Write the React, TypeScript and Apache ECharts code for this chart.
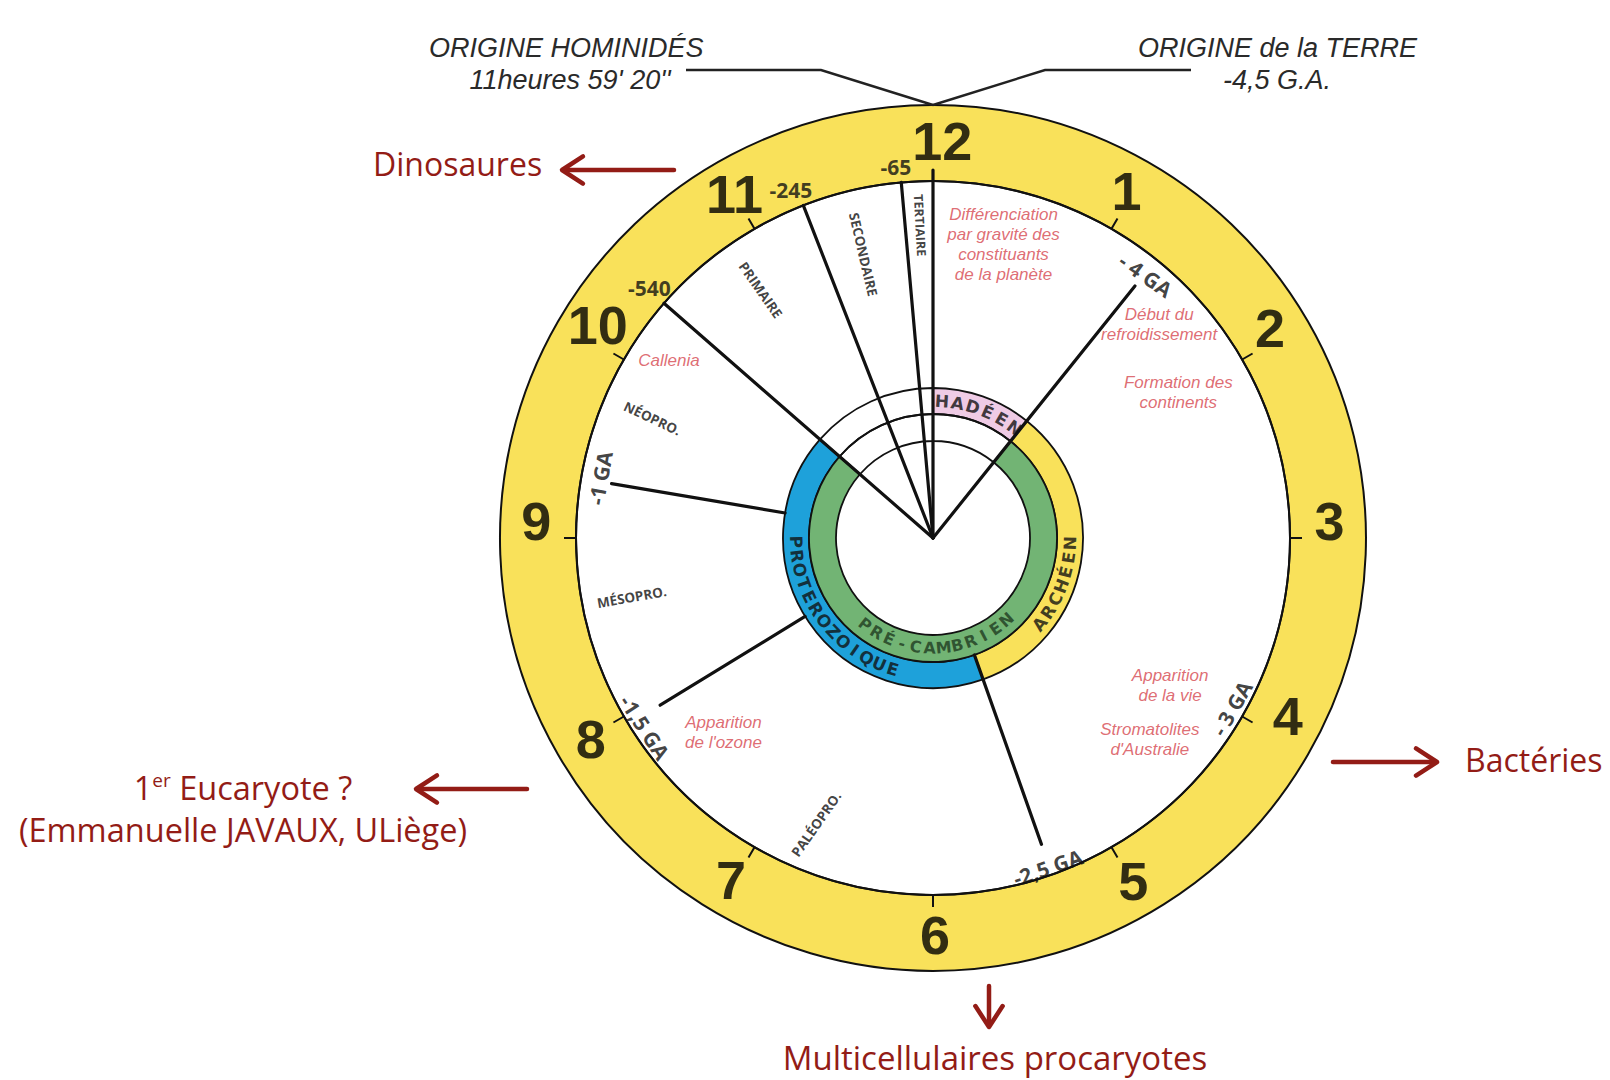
import React, { useEffect, useRef } from 'react';
import * as echarts from 'echarts';

// ---------------- data ----------------
// clock face: 12 hours = 4.5 billion years
const clockNumbers = ['12', '1', '2', '3', '4', '5', '6', '7', '8', '9', '10', '11'];
const clockNumberHours = [0.045, 0.973, 1.937, 2.918, 3.89, 4.99, 5.99, 7.02, 7.985, 9.08, 10.08, 11.0];

// eons (outer coloured band) – end position on the clock, in hours
const eonNames = ['HADÉEN', 'ARCHÉEN', 'PROTEROZOIQUE', 'PHANÉROZOÏQUE'];
const eonEndHours = [1.29, 5.35, 10.37, 12];
// super-eon (inner green band)
const superEonName = 'PRÉ-CAMBRIEN';
const superEonHours = [1.29, 10.37];

// boundaries (radial lines) and their labels
const boundaryLabels = ['', '-65', '-245', '-540', '-1 GA', '-1,5 GA', '-2,5 GA', '- 3 GA', '- 4 GA'];
const boundaryHours = [12, 11.83, 11.29, 10.37, 9.32, 7.95, 5.35, 4.0, 1.29];

// eras written along the radius
const eraNames = ['TERTIAIRE', 'SECONDAIRE', 'PRIMAIRE', 'NÉOPRO.', 'MÉSOPRO.', 'PALÉOPRO.'];

// events (red italic notes)
const eventTexts = [
  'Différenciation\npar gravité des\nconstituants\nde la planète',
  'Début du\nrefroidissement',
  'Formation des\ncontinents',
  'Apparition\nde la vie',
  "Stromatolites\nd'Australie",
  "Apparition\nde l'ozone",
  'Callenia',
];

// header notes
const topLeftNote = ['ORIGINE HOMINIDÉS', "11heures 59' 20''"];
const topRightNote = ['ORIGINE de la TERRE', '-4,5 G.A.'];
// side notes (dark red)
const sideNotes = ['Dinosaures', 'Bactéries', 'Multicellulaires procaryotes', '(Emmanuelle JAVAUX, ULiège)'];

// ---------------- layout / style ----------------
const CX = 933;
const CY = 538;
const R_OUT = 433;
const R_FACE = 357;
const EON_BAND = [124, 150];
const SUPER_BAND = [97, 124];

const INK = '#111111';
const YELLOW = '#f9e15a';
const PINK = '#efcbe5';
const BLUE = '#1ea1da';
const GREEN = '#72b474';
const EMPTY = 'rgba(0,0,0,0)';
const EVENT_RED = '#d6474f';
const ANNOT_RED = '#931c16';

const eonColors = [PINK, YELLOW, BLUE, EMPTY];
// [r0, r1] of each boundary line (null = no line)
const boundaryLineExtent: (number[] | null)[] = [
  [0, 368], [0, 357], [0, 357], [0, 357], [150, 326], [150, 320], [124, 325], null, [0, 323],
];
// [r, hour, rotation] for each boundary label
const boundaryLabelPos: (number[] | null)[] = [
  null, [373, 11.81, 0], [376, 11.26, 0], [378, 10.38, 0], [338, 9.34, 80], [345, 7.89, -57],
  [349, 5.36, 19], [344, 3.99, 60], [338, 1.3, -35],
];
const eraPos = [
  [313, 11.92, -87], [292, 11.54, -77], [302, 10.84, -55], [305, 9.77, -25], [307, 8.63, 10], [309, 6.74, 55],
];
const eventPos = [
  [302, 0.45], [311, 1.555], [285, 1.98], [279, 4.06], [296, 4.43], [286, 7.57], [318, 10.13],
];
const NUMBER_R = 397;

const norm = (d: number) => ((((d + 180) % 360) + 360) % 360) - 180;

function arcLetters(text: string, r: number, h0: number, h1: number, topOut: boolean, style: any) {
  const chars = Array.from(text);
  const n = chars.length;
  return chars.map((c, i) => {
    const h = h0 + ((h1 - h0) * i) / (n - 1);
    const theta = h * 30;
    const rot = topOut ? -theta : 180 - theta;
    return { value: [r, h], label: { formatter: c, rotate: norm(rot), ...style } };
  });
}

function textSeries(name: string, data: any[], z = 6) {
  return {
    type: 'scatter',
    name,
    coordinateSystem: 'polar',
    polarIndex: 0,
    symbolSize: 1,
    silent: true,
    z,
    itemStyle: { color: EMPTY },
    label: { show: true, position: 'inside', align: 'center', verticalAlign: 'middle' },
    labelLayout: { hideOverlap: false },
    data,
  };
}

function arrow(x1: number, y1: number, x2: number, y2: number) {
  const ang = Math.atan2(y2 - y1, x2 - x1);
  const L = 25;
  const a = (33 * Math.PI) / 180;
  const p1 = [x2 - L * Math.cos(ang - a), y2 - L * Math.sin(ang - a)];
  const p2 = [x2 - L * Math.cos(ang + a), y2 - L * Math.sin(ang + a)];
  const st = { stroke: ANNOT_RED, lineWidth: 4.5, lineCap: 'round', lineJoin: 'round', fill: 'none' };
  return [
    { type: 'line', shape: { x1, y1, x2: x2 - 2 * Math.cos(ang), y2: y2 - 2 * Math.sin(ang) }, style: st, z: 100 },
    { type: 'polyline', shape: { points: [p1, [x2, y2], p2] }, style: st, z: 100 },
  ];
}

function buildOption() {
  let prev = 0;
  const eonData = eonNames.map((n, i) => {
    const v = eonEndHours[i] - prev;
    prev = eonEndHours[i];
    return { name: n, value: v, itemStyle: { color: eonColors[i] } };
  });
  const superData = [
    { name: 'avant', value: superEonHours[0], itemStyle: { color: EMPTY } },
    { name: superEonName, value: superEonHours[1] - superEonHours[0], itemStyle: { color: GREEN } },
    { name: 'après', value: 12 - superEonHours[1], itemStyle: { color: EMPTY } },
  ];

  const ringBase = {
    type: 'pie',
    center: [CX, CY],
    startAngle: 90,
    clockwise: true,
    silent: true,
    label: { show: false },
    labelLine: { show: false },
    emphasis: { disabled: true },
  };

  const lineSeries: any[] = [];
  boundaryHours.forEach((h, i) => {
    const ext = boundaryLineExtent[i];
    if (!ext) return;
    lineSeries.push({
      type: 'line',
      name: 'limite ' + (boundaryLabels[i] || 'origine'),
      coordinateSystem: 'polar',
      polarIndex: 0,
      data: [[ext[0], h], [ext[1], h]],
      showSymbol: false,
      symbol: 'none',
      silent: true,
      z: 4,
      lineStyle: { color: INK, width: 3.2, cap: 'round' },
    });
  });

  const numberData = clockNumbers.map((t, i) => ({
    value: [NUMBER_R, clockNumberHours[i]],
    label: {
      formatter: t,
      fontSize: 54,
      fontWeight: 'bold',
      fontFamily: "'Liberation Sans Narrow', 'Liberation Sans', sans-serif",
      color: '#000000',
    },
  }));

  const boundaryData: any[] = [];
  boundaryLabels.forEach((t, i) => {
    const p = boundaryLabelPos[i];
    if (!p || !t) return;
    boundaryData.push({
      value: [p[0], p[1]],
      label: { formatter: t, rotate: p[2], fontSize: 21, fontWeight: 'bold', fontFamily: "'Open Sans', sans-serif", color: INK },
    });
  });

  const eraData = eraNames.map((t, i) => ({
    value: [eraPos[i][0], eraPos[i][1]],
    label: {
      formatter: t,
      rotate: eraPos[i][2],
      fontSize: i === 0 ? 12.5 : 13.5,
      fontWeight: 'bold',
      fontFamily: "'Open Sans', sans-serif",
      color: INK,
    },
  }));

  const eventData = eventTexts.map((t, i) => ({
    value: [eventPos[i][0], eventPos[i][1]],
    label: {
      formatter: t,
      fontSize: 17,
      lineHeight: 20,
      fontStyle: 'italic',
      fontFamily: "'Liberation Sans', Arial, sans-serif",
      color: EVENT_RED,
    },
  }));

  const eonStyle = { fontSize: 17, fontWeight: 'bold', fontFamily: "'DejaVu Sans', sans-serif", color: INK };
  const letters = [
    ...arcLetters(eonNames[0], 137, 0.127, 1.217, true, eonStyle),
    ...arcLetters(eonNames[1], 137, 4.293, 3.073, false, eonStyle),
    ...arcLetters(eonNames[2], 137, 8.947, 6.573, false, eonStyle),
    ...arcLetters(superEonName, 110, 7.273, 4.603, false, { ...eonStyle, fontSize: 16, color: '#1e3a1f' }),
  ];

  const graphic: any[] = [];
  const noteFont = "'Liberation Sans Narrow', 'Liberation Sans', sans-serif";
  const noteStyle = { fill: '#2a2a2a', fontSize: 27, fontStyle: 'italic', fontFamily: noteFont, verticalAlign: 'middle' };
  graphic.push({ type: 'text', x: 429, y: 48, z: 100, style: { ...noteStyle, text: topLeftNote[0], align: 'left' } });
  graphic.push({ type: 'text', x: 570, y: 80, z: 100, style: { ...noteStyle, text: topLeftNote[1], align: 'center' } });
  graphic.push({ type: 'text', x: 1417, y: 48, z: 100, style: { ...noteStyle, text: topRightNote[0], align: 'right' } });
  graphic.push({ type: 'text', x: 1277, y: 80, z: 100, style: { ...noteStyle, text: topRightNote[1], align: 'center' } });
  const leader = { stroke: '#222', lineWidth: 2.5, fill: 'none' };
  graphic.push({ type: 'polyline', z: 100, shape: { points: [[686, 70], [821, 70], [CX, CY - R_OUT]] }, style: leader });
  graphic.push({ type: 'polyline', z: 100, shape: { points: [[1191, 70], [1045, 70], [CX, CY - R_OUT]] }, style: leader });

  const sideFont = "'Open Sans', sans-serif";
  const sideStyle = { fill: ANNOT_RED, fontSize: 32, fontFamily: sideFont, verticalAlign: 'middle' };
  graphic.push({ type: 'text', x: 373, y: 163, z: 100, style: { ...sideStyle, text: sideNotes[0], align: 'left' } });
  graphic.push(...arrow(674, 170, 562, 170));
  graphic.push({ type: 'text', x: 1465, y: 759, z: 100, style: { ...sideStyle, text: sideNotes[1], align: 'left' } });
  graphic.push(...arrow(1333, 762, 1437, 762));
  graphic.push({ type: 'text', x: 995, y: 1057, z: 100, style: { ...sideStyle, fontSize: 33, text: sideNotes[2], align: 'center' } });
  graphic.push(...arrow(989, 986, 989, 1027));
  graphic.push({
    type: 'text', x: 243, y: 787, z: 100,
    style: {
      text: '{b|1}{s|er}{b| Eucaryote ?}',
      align: 'center',
      verticalAlign: 'middle',
      rich: {
        b: { fill: ANNOT_RED, fontSize: 32.5, fontFamily: sideFont },
        s: { fill: ANNOT_RED, fontSize: 19, fontFamily: sideFont, verticalAlign: 'top' },
      },
    },
  });
  graphic.push({ type: 'text', x: 243, y: 829, z: 100, style: { ...sideStyle, fontSize: 32.5, text: sideNotes[3], align: 'center' } });
  graphic.push(...arrow(527, 789, 416, 789));

  return {
    animation: false,
    backgroundColor: '#ffffff',
    polar: [
      { center: [CX, CY], radius: R_OUT },
      { center: [CX, CY], radius: R_FACE },
    ],
    angleAxis: [
      { polarIndex: 0, type: 'value', min: 0, max: 12, startAngle: 90, clockwise: true, show: false },
      {
        polarIndex: 1, type: 'value', min: 0, max: 12, interval: 1, startAngle: 90, clockwise: true, z: 10,
        axisLine: { show: true, lineStyle: { color: INK, width: 2 } },
        axisTick: { show: true, inside: false, length: 12, lineStyle: { color: INK, width: 2 } },
        axisLabel: { show: false },
        splitLine: { show: false },
      },
    ],
    radiusAxis: [
      { polarIndex: 0, type: 'value', min: 0, max: R_OUT, show: false },
      { polarIndex: 1, type: 'value', min: 0, max: R_FACE, show: false },
    ],
    series: [
      {
        ...ringBase, name: 'cadran', radius: [R_FACE, R_OUT], z: 1,
        data: [{ name: 'cadran', value: 12, itemStyle: { color: YELLOW } }],
        itemStyle: { borderColor: INK, borderWidth: 2 },
      },
      { ...ringBase, name: 'éons', radius: EON_BAND, z: 2, data: eonData, itemStyle: { borderColor: INK, borderWidth: 1.8 } },
      { ...ringBase, name: 'super-éon', radius: SUPER_BAND, z: 2, data: superData, itemStyle: { borderColor: INK, borderWidth: 1.8 } },
      ...lineSeries,
      textSeries('heures', numberData),
      textSeries('limites', boundaryData),
      textSeries('ères', eraData),
      textSeries('événements', eventData),
      textSeries('lettres', letters),
    ],
    graphic,
  };
}

export default function App() {
  const ref = useRef<HTMLDivElement>(null);
  useEffect(() => {
    document.body.style.margin = '0';
    if (!ref.current) return;
    const chart = echarts.init(ref.current, null, { renderer: 'svg' });
    chart.setOption(buildOption() as any);
    return () => chart.dispose();
  }, []);
  return <div ref={ref} style={{ width: 1610, height: 1080 }} />;
}
